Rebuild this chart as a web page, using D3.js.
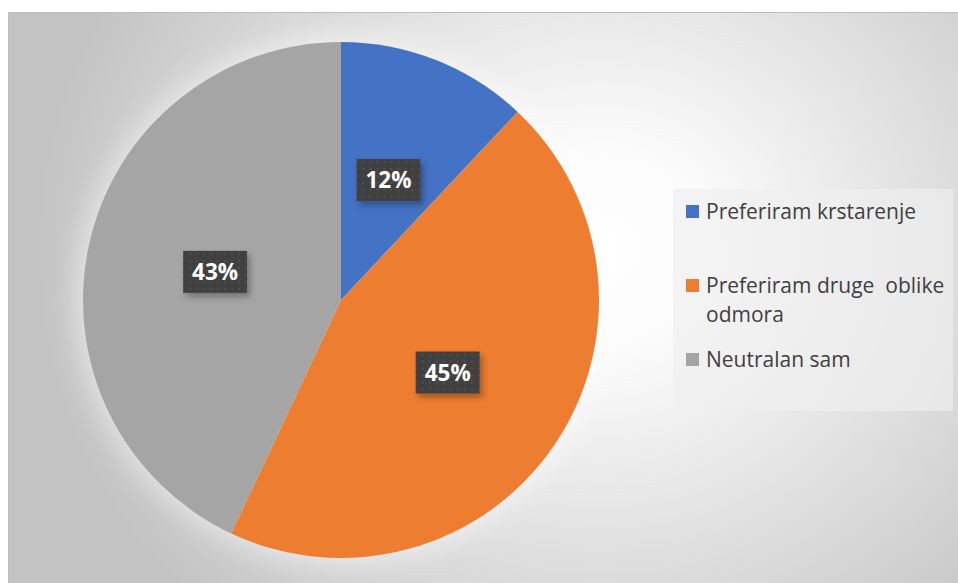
<!DOCTYPE html>
<html>
<head>
<meta charset="utf-8">
<script src="https://cdn.jsdelivr.net/npm/d3@7"></script>
<style>
  html, body { margin: 0; padding: 0; background: #fff; overflow: hidden; }
  text { font-family: 'Open Sans', 'Noto Sans', sans-serif; }
</style>
</head>
<body>
<div id="chart"></div>
<script>
const categories = ['Preferiram krstarenje', 'Preferiram druge  oblike odmora', 'Neutralan sam'];
const legendLines = [['Preferiram krstarenje'], ['Preferiram druge  oblike', 'odmora'], ['Neutralan sam']];
const values = [12, 45, 43];
const colors = ['#4472C4', '#ED7D31', '#A5A5A5'];

const width = 958, height = 583;
const cx = 341, cy = 300, radius = 258;

const svg = d3.select('#chart').append('svg')
  .attr('width', width)
  .attr('height', height);

const defs = svg.append('defs');

// chart area background
let bg = defs.append('radialGradient')
  .attr('id', 'bg')
  .attr('gradientUnits', 'userSpaceOnUse')
  .attr('cx', 600).attr('cy', 250).attr('r', 570)
  .attr('gradientTransform', 'translate(600,250) scale(1,0.9) translate(-600,-250)');
bg.append('stop').attr('offset', 0).attr('stop-color', '#ffffff');
bg.append('stop').attr('offset', 0.2).attr('stop-color', '#fbfbfb');
bg.append('stop').attr('offset', 1).attr('stop-color', '#c3c3c3');

defs.append('filter').attr('id', 'glow')
  .attr('x', '-30%').attr('y', '-30%').attr('width', '160%').attr('height', '160%')
  .append('feGaussianBlur').attr('stdDeviation', 14);

let shadow = defs.append('filter').attr('id', 'shadow')
  .attr('x', '-30%').attr('y', '-30%').attr('width', '170%').attr('height', '170%');
shadow.append('feDropShadow')
  .attr('dx', 3).attr('dy', 4).attr('stdDeviation', 3)
  .attr('flood-color', '#000').attr('flood-opacity', 0.3);

let dots = defs.append('pattern').attr('id', 'dots')
  .attr('patternUnits', 'userSpaceOnUse')
  .attr('width', 7).attr('height', 7);
dots.append('rect').attr('width', 7).attr('height', 7).attr('fill', '#404040');
dots.append('rect').attr('x', 2).attr('y', 2).attr('width', 2).attr('height', 2).attr('fill', '#505050');

svg.append('rect')
  .attr('x', 8.5).attr('y', 12.5)
  .attr('width', width).attr('height', height)
  .attr('fill', 'url(#bg)')
  .attr('stroke', '#bdbdbd');

// pie
const pie = d3.pie().sort(null).value(d => d);
const arcs = pie(values);
const total = d3.sum(values);

const arc = d3.arc().innerRadius(0).outerRadius(radius);
const labelArc = d3.arc().innerRadius(radius * 0.5).outerRadius(radius * 0.5);

const g = svg.append('g').attr('transform', `translate(${cx},${cy})`);

g.append('circle')
  .attr('r', radius + 6)
  .attr('fill', '#ffffff')
  .attr('opacity', 0.5)
  .attr('filter', 'url(#glow)');

g.selectAll('path.slice')
  .data(arcs)
  .enter()
  .append('path')
  .attr('class', 'slice')
  .attr('d', arc)
  .attr('fill', (d, i) => colors[i]);

// data labels
const fmt = d3.format('.0%');
const boxW = 64, boxH = 42;

let labels = g.selectAll('g.label')
  .data(arcs)
  .enter()
  .append('g')
  .attr('class', 'label')
  .attr('transform', d => `translate(${labelArc.centroid(d)})`);

labels.append('rect')
  .attr('x', -boxW / 2).attr('y', -boxH / 2)
  .attr('width', boxW).attr('height', boxH)
  .attr('fill', 'url(#dots)')
  .attr('filter', 'url(#shadow)');

labels.append('text')
  .attr('text-anchor', 'middle')
  .attr('y', 8)
  .attr('fill', '#ffffff')
  .attr('font-weight', 'bold')
  .attr('font-size', 22.5)
  .text(d => fmt(d.data / total));

// legend
const legend = svg.append('g');

legend.append('rect')
  .attr('x', 673).attr('y', 189)
  .attr('width', 280).attr('height', 222)
  .attr('fill', '#eeeeee')
  .attr('fill-opacity', 0.67);

let items = legend.selectAll('g.item')
  .data(categories)
  .enter()
  .append('g')
  .attr('class', 'item')
  .attr('transform', (d, i) => `translate(686, ${219 + i * 74})`);

items.append('rect')
  .attr('x', 0).attr('y', -14)
  .attr('width', 13).attr('height', 13)
  .attr('fill', (d, i) => colors[i]);

items.append('text')
  .attr('fill', '#404040')
  .attr('font-size', 21)
  .style('white-space', 'pre')
  .selectAll('tspan')
  .data((d, i) => legendLines[i])
  .enter()
  .append('tspan')
  .attr('x', 20)
  .attr('y', (d, j) => j * 29)
  .text(d => d);
</script>
</body>
</html>
